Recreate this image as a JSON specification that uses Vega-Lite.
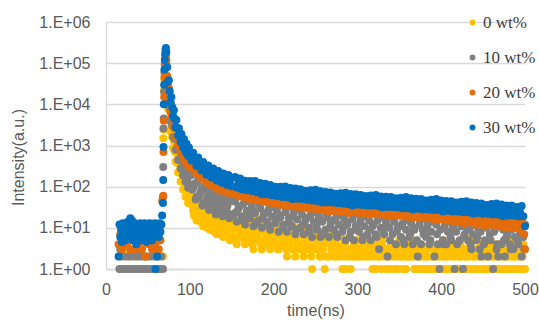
{
"$schema":"https://vega.github.io/schema/vega-lite/v6.json",
"width":419,"height":247,
"autosize":{"type":"none"},
"padding":{"left":106,"top":22,"right":14,"bottom":51},
"background":"white",
"config":{
"view":{"stroke":null},
"font":"Liberation Sans",
"axis":{"labelFont":"Liberation Sans","titleFont":"Liberation Sans","labelFontSize":16,"titleFontSize":16,"labelColor":"#595959","titleColor":"#595959","titleFontWeight":"normal","ticks":false,"labelFlush":false,"domainColor":"#d9d9d9","gridColor":"#d9d9d9","domainWidth":1.3,"gridWidth":1.3},
"legend":{"labelFont":"Liberation Serif","labelFontSize":17,"labelColor":"#404040","symbolType":"circle","symbolSize":34,"rowPadding":17,"labelOffset":2,"padding":0}
},
"datasets":{
"y0":[{"t":16,"v":2},{"t":20,"v":1},{"t":24,"v":3},{"t":28,"v":2},{"t":32,"v":1},{"t":36,"v":2},{"t":40,"v":3},{"t":44,"v":1},{"t":48,"v":2},{"t":52,"v":1},{"t":56,"v":3},{"t":60,"v":2},{"t":64,"v":1},{"t":68,"v":2},
{"t":68.5,"v":1500},{"t":68.8,"v":2400},{"t":69.2,"v":22000},{"t":69.6,"v":40000},{"t":70,"v":50000},{"t":70.5,"v":48000},{"t":71,"v":45000},
{"t":72,"v":51200},{"t":73,"v":19900},{"t":74,"v":7760},{"t":75,"v":9150},{"t":76,"v":4490},{"t":77,"v":2200},{"t":78,"v":3090},{"t":79,"v":1600},{"t":80,"v":870},{"t":81,"v":1300},{"t":82,"v":710},{"t":83,"v":410},{"t":84,"v":650},{"t":85,"v":375},{"t":86,"v":221},{"t":87,"v":358},{"t":88,"v":217},{"t":89,"v":133},{"t":90,"v":222},{"t":91,"v":135},{"t":92,"v":85},{"t":93,"v":146},{"t":94,"v":91},{"t":95,"v":57},{"t":96,"v":98},{"t":97,"v":62},{"t":98,"v":40},{"t":99,"v":68},{"t":100,"v":44},
{"t":102,"v":72},{"t":104,"v":26},{"t":106,"v":37},{"t":108,"v":15},{"t":110,"v":49},{"t":112,"v":18},{"t":114,"v":26},{"t":116,"v":11},{"t":118,"v":35},{"t":120,"v":13},{"t":122,"v":20},{"t":124,"v":9},{"t":126,"v":28},{"t":128,"v":11},{"t":130,"v":15},{"t":132,"v":7},{"t":134,"v":23},{"t":136,"v":9},{"t":138,"v":13},{"t":140,"v":6},{"t":142,"v":19},{"t":144,"v":8},{"t":146,"v":12},{"t":148,"v":5},
{"t":101,"v":61},{"t":103,"v":35},{"t":105,"v":20},{"t":107,"v":35},{"t":109,"v":40},{"t":111,"v":24},{"t":113,"v":14},{"t":115,"v":25},{"t":117,"v":29},{"t":119,"v":17},{"t":121,"v":10},{"t":123,"v":19},{"t":125,"v":23},{"t":127,"v":14},{"t":129,"v":8},{"t":131,"v":15},{"t":133,"v":18},{"t":135,"v":11},{"t":137,"v":7},{"t":139,"v":13},{"t":141,"v":16},{"t":143,"v":10},{"t":145,"v":6},{"t":147,"v":12},{"t":149,"v":14},
{"t":150,"v":21},{"t":152,"v":6},{"t":154,"v":14},{"t":156,"v":4},{"t":158,"v":10},{"t":160,"v":19},{"t":162,"v":6},{"t":164,"v":12},{"t":166,"v":4},{"t":168,"v":9},{"t":170,"v":17},{"t":172,"v":5},{"t":174,"v":11},{"t":176,"v":3},{"t":178,"v":8},{"t":180,"v":16},{"t":182,"v":5},{"t":184,"v":10},{"t":186,"v":3},{"t":188,"v":8},{"t":190,"v":14},{"t":192,"v":4},{"t":194,"v":9},{"t":196,"v":3},{"t":198,"v":7},{"t":200,"v":13},{"t":202,"v":4},{"t":204,"v":9},{"t":206,"v":3},{"t":208,"v":7},{"t":210,"v":12},{"t":212,"v":4},{"t":214,"v":8},{"t":216,"v":2},{"t":218,"v":6},{"t":220,"v":11},{"t":222,"v":3},{"t":224,"v":7},{"t":226,"v":2},{"t":228,"v":6},{"t":230,"v":10},{"t":232,"v":3},{"t":234,"v":7},{"t":236,"v":2},{"t":238,"v":5},{"t":240,"v":9},{"t":242,"v":3},{"t":244,"v":6},{"t":246,"v":1},{"t":248,"v":4},{"t":250,"v":8},{"t":252,"v":3},{"t":254,"v":5},{"t":256,"v":2},{"t":258,"v":4},{"t":260,"v":8},{"t":261,"v":1},{"t":262,"v":2},{"t":264,"v":5},{"t":266,"v":2},{"t":268,"v":4},{"t":270,"v":7},{"t":272,"v":2},{"t":274,"v":5},{"t":276,"v":2},{"t":278,"v":3},{"t":280,"v":6},{"t":282,"v":1},{"t":284,"v":4},{"t":286,"v":1},{"t":288,"v":3},{"t":290,"v":6},{"t":292,"v":1},{"t":294,"v":2},{"t":296,"v":4},{"t":298,"v":2},{"t":300,"v":5},{"t":302,"v":2},{"t":304,"v":3},{"t":306,"v":6},{"t":308,"v":2},{"t":310,"v":4},{"t":312,"v":2},{"t":314,"v":3},{"t":316,"v":5},{"t":318,"v":1},{"t":320,"v":3},{"t":322,"v":1},{"t":324,"v":4},{"t":326,"v":2},{"t":328,"v":1},{"t":330,"v":5},{"t":332,"v":3},{"t":334,"v":1},{"t":336,"v":2},{"t":338,"v":1},{"t":340,"v":4},{"t":342,"v":2},{"t":344,"v":1},{"t":346,"v":3},{"t":348,"v":1},{"t":350,"v":5},{"t":352,"v":2},{"t":354,"v":1},{"t":356,"v":3},{"t":358,"v":1},{"t":360,"v":2},{"t":362,"v":4},{"t":364,"v":2},{"t":366,"v":3},{"t":368,"v":1},{"t":370,"v":5},{"t":372,"v":1},{"t":374,"v":2},{"t":376,"v":1},{"t":378,"v":3},{"t":380,"v":1},{"t":382,"v":2},{"t":384,"v":1},{"t":386,"v":4},{"t":388,"v":1},{"t":390,"v":2},{"t":392,"v":1},{"t":394,"v":3},{"t":396,"v":1},{"t":398,"v":2},{"t":400,"v":1},{"t":402,"v":5},{"t":404,"v":1},{"t":406,"v":2},{"t":408,"v":1},{"t":410,"v":3},{"t":412,"v":1},{"t":414,"v":2},{"t":416,"v":1},{"t":418,"v":4},{"t":420,"v":1},{"t":422,"v":2},{"t":424,"v":1},{"t":426,"v":3},{"t":428,"v":1},{"t":430,"v":2},{"t":432,"v":1},{"t":434,"v":5},{"t":436,"v":1},{"t":438,"v":2},{"t":440,"v":1},{"t":442,"v":3},{"t":444,"v":1},{"t":446,"v":2},{"t":448,"v":1},{"t":450,"v":4},{"t":452,"v":1},{"t":454,"v":2},{"t":456,"v":1},{"t":458,"v":3},{"t":460,"v":1},{"t":462,"v":2},{"t":464,"v":1},{"t":466,"v":4},{"t":468,"v":1},{"t":470,"v":2},{"t":472,"v":1},{"t":474,"v":3},{"t":476,"v":1},{"t":478,"v":2},{"t":480,"v":1},{"t":482,"v":5},{"t":484,"v":1},{"t":486,"v":2},{"t":488,"v":1},{"t":490,"v":3},{"t":492,"v":1},{"t":494,"v":2},{"t":496,"v":1},{"t":498,"v":4},{"t":500,"v":1},
{"t":151,"v":9},{"t":153,"v":16},{"t":155,"v":5},{"t":157,"v":11},{"t":159,"v":7},{"t":161,"v":8},{"t":163,"v":15},{"t":165,"v":5},{"t":167,"v":10},{"t":169,"v":6},{"t":171,"v":7},{"t":173,"v":13},{"t":175,"v":4},{"t":177,"v":9},{"t":179,"v":6},{"t":181,"v":7},{"t":183,"v":12},{"t":185,"v":4},{"t":187,"v":8},{"t":189,"v":5},{"t":191,"v":6},{"t":193,"v":11},{"t":195,"v":4},{"t":197,"v":8},{"t":199,"v":5},{"t":201,"v":6},{"t":203,"v":10},{"t":205,"v":3},{"t":207,"v":7},{"t":209,"v":5},{"t":211,"v":5},{"t":213,"v":9},{"t":215,"v":3},{"t":217,"v":7},{"t":219,"v":4},{"t":221,"v":5},{"t":223,"v":9},{"t":225,"v":3},{"t":227,"v":6},{"t":229,"v":4},{"t":231,"v":4},{"t":233,"v":8},{"t":235,"v":3},{"t":237,"v":5},{"t":239,"v":3},{"t":241,"v":4},{"t":243,"v":7},{"t":245,"v":2},{"t":247,"v":5},{"t":249,"v":3},{"t":251,"v":3},{"t":253,"v":6},{"t":255,"v":2},{"t":257,"v":5},{"t":259,"v":3},{"t":263,"v":6},{"t":265,"v":2},{"t":267,"v":4},{"t":269,"v":3},
{"t":271,"v":3},{"t":273,"v":2},{"t":275,"v":4},{"t":277,"v":3},{"t":279,"v":2},{"t":281,"v":3},{"t":283,"v":2},{"t":285,"v":4},{"t":287,"v":2},{"t":289,"v":3},{"t":291,"v":2},{"t":293,"v":3},{"t":295,"v":2},{"t":297,"v":4},{"t":299,"v":3},{"t":301,"v":2},{"t":303,"v":3},{"t":305,"v":2},{"t":307,"v":4},{"t":309,"v":3},{"t":311,"v":2},{"t":313,"v":3},{"t":315,"v":2},{"t":317,"v":4},{"t":319,"v":2},{"t":321,"v":3},{"t":323,"v":2},{"t":325,"v":3},{"t":327,"v":2},{"t":329,"v":4},{"t":331,"v":2},{"t":333,"v":3},{"t":335,"v":2},{"t":337,"v":3},{"t":339,"v":2},{"t":341,"v":4},{"t":343,"v":3},{"t":345,"v":2},{"t":347,"v":3},{"t":349,"v":2},{"t":351,"v":4},{"t":353,"v":2},{"t":355,"v":3},{"t":357,"v":2},{"t":359,"v":3},{"t":361,"v":2},{"t":363,"v":4},{"t":365,"v":2},{"t":367,"v":3},{"t":369,"v":2},{"t":371,"v":3},{"t":373,"v":2},{"t":375,"v":4},{"t":377,"v":2},{"t":379,"v":3},{"t":381,"v":2},{"t":383,"v":3},{"t":385,"v":2},{"t":387,"v":4},{"t":389,"v":2},{"t":391,"v":3},{"t":393,"v":2},{"t":395,"v":3},{"t":397,"v":2},{"t":399,"v":4},{"t":401,"v":2},{"t":403,"v":3},{"t":405,"v":2},{"t":407,"v":3},{"t":409,"v":2},{"t":411,"v":4},{"t":413,"v":2},{"t":415,"v":3},{"t":417,"v":2},{"t":419,"v":3},{"t":421,"v":2},{"t":423,"v":4},{"t":425,"v":2},{"t":427,"v":3},{"t":429,"v":2},{"t":431,"v":3},{"t":433,"v":2},{"t":435,"v":4},{"t":437,"v":2},{"t":439,"v":3},{"t":441,"v":2},{"t":443,"v":3},{"t":445,"v":2},{"t":447,"v":4},{"t":449,"v":2},{"t":451,"v":3},{"t":453,"v":2},{"t":455,"v":3},{"t":457,"v":2},{"t":459,"v":4},{"t":461,"v":2},{"t":463,"v":3},{"t":465,"v":2},{"t":467,"v":3},{"t":469,"v":2},{"t":471,"v":4},{"t":473,"v":2},{"t":475,"v":3},{"t":477,"v":2},{"t":479,"v":3},{"t":481,"v":2},{"t":483,"v":4},{"t":485,"v":2},{"t":487,"v":3},{"t":489,"v":2},{"t":491,"v":3},{"t":493,"v":2},{"t":495,"v":4},{"t":497,"v":2},{"t":499,"v":3}],
"y1":[{"t":16,"v":1},{"t":17,"v":3},{"t":18,"v":2},{"t":20,"v":1},{"t":22,"v":2},{"t":24,"v":1},{"t":26,"v":2},{"t":28,"v":1},{"t":30,"v":2},{"t":32,"v":1},{"t":34,"v":2},{"t":36,"v":1},{"t":37,"v":3},{"t":38,"v":2},{"t":40,"v":1},{"t":42,"v":2},{"t":44,"v":1},{"t":46,"v":2},{"t":48,"v":1},{"t":50,"v":2},{"t":52,"v":1},{"t":54,"v":2},{"t":56,"v":1},{"t":57,"v":3},{"t":58,"v":2},{"t":60,"v":1},{"t":62,"v":2},{"t":64,"v":1},{"t":66,"v":2},{"t":68,"v":1},
{"t":68.3,"v":300},{"t":68.6,"v":2600},{"t":68.9,"v":4500},{"t":69.3,"v":20000},{"t":69.7,"v":60000},{"t":70.1,"v":95000},{"t":70.5,"v":110000},{"t":71,"v":95000},
{"t":72,"v":94600},{"t":73,"v":35000},{"t":74,"v":13100},{"t":75,"v":17800},{"t":76,"v":8300},{"t":77,"v":3910},{"t":78,"v":6200},{"t":79,"v":3070},{"t":80,"v":1620},{"t":81,"v":2700},{"t":82,"v":1430},{"t":83,"v":790},{"t":84,"v":1410},{"t":85,"v":785},{"t":86,"v":445},{"t":87,"v":818},{"t":88,"v":478},{"t":89,"v":278},{"t":90,"v":530},{"t":91,"v":310},{"t":92,"v":186},{"t":93,"v":362},{"t":94,"v":217},{"t":95,"v":131},{"t":96,"v":255},{"t":97,"v":153},{"t":98,"v":94},{"t":99,"v":184},{"t":100,"v":113},
{"t":102,"v":220},{"t":104,"v":95},{"t":106,"v":119},{"t":108,"v":56},{"t":110,"v":149},{"t":112,"v":66},{"t":114,"v":85},{"t":116,"v":40},{"t":118,"v":106},{"t":120,"v":49},{"t":122,"v":64},{"t":124,"v":31},{"t":126,"v":85},{"t":128,"v":39},{"t":130,"v":50},{"t":132,"v":25},{"t":134,"v":78},{"t":136,"v":34},{"t":138,"v":49},{"t":140,"v":24},{"t":142,"v":66},{"t":144,"v":29},{"t":146,"v":42},{"t":148,"v":21},
{"t":101,"v":186},{"t":103,"v":85},{"t":105,"v":106},{"t":107,"v":49},{"t":109,"v":124},{"t":111,"v":58},{"t":113,"v":75},{"t":115,"v":35},{"t":117,"v":88},{"t":119,"v":42},{"t":121,"v":56},{"t":123,"v":27},{"t":125,"v":70},{"t":127,"v":34},{"t":129,"v":44},{"t":131,"v":21},{"t":133,"v":63},{"t":135,"v":30},{"t":137,"v":40},{"t":139,"v":19},{"t":141,"v":53},{"t":143,"v":25},{"t":145,"v":35},{"t":147,"v":17},{"t":149,"v":49},
{"t":150,"v":66},{"t":152,"v":21},{"t":154,"v":43},{"t":156,"v":14},{"t":158,"v":29},{"t":160,"v":58},{"t":162,"v":19},{"t":164,"v":38},{"t":166,"v":12},{"t":168,"v":26},{"t":170,"v":52},{"t":172,"v":17},{"t":174,"v":34},{"t":176,"v":11},{"t":178,"v":23},{"t":180,"v":47},{"t":182,"v":15},{"t":184,"v":30},{"t":186,"v":10},{"t":188,"v":21},{"t":190,"v":43},{"t":192,"v":14},{"t":194,"v":28},{"t":196,"v":9},{"t":198,"v":19},{"t":200,"v":39},{"t":202,"v":13},{"t":204,"v":26},{"t":206,"v":8},{"t":208,"v":18},{"t":210,"v":36},{"t":212,"v":12},{"t":214,"v":24},{"t":216,"v":8},{"t":218,"v":17},{"t":220,"v":34},{"t":222,"v":11},{"t":224,"v":23},{"t":226,"v":7},{"t":228,"v":16},{"t":230,"v":32},{"t":232,"v":10},{"t":234,"v":21},{"t":236,"v":7},{"t":238,"v":15},{"t":240,"v":31},{"t":242,"v":10},{"t":244,"v":20},{"t":246,"v":6},{"t":248,"v":14},{"t":250,"v":29},{"t":252,"v":9},{"t":254,"v":19},{"t":256,"v":6},{"t":258,"v":14},{"t":260,"v":28},{"t":262,"v":9},{"t":264,"v":18},{"t":266,"v":6},{"t":268,"v":13},{"t":270,"v":26},{"t":272,"v":9},{"t":274,"v":17},{"t":276,"v":6},{"t":278,"v":12},{"t":280,"v":25},{"t":282,"v":8},{"t":284,"v":17},{"t":286,"v":5},{"t":288,"v":12},{"t":290,"v":24},{"t":292,"v":8},{"t":294,"v":16},{"t":296,"v":5},{"t":298,"v":11},{"t":300,"v":23},{"t":302,"v":8},{"t":304,"v":16},{"t":306,"v":5},{"t":308,"v":11},{"t":310,"v":23},{"t":312,"v":7},{"t":314,"v":15},{"t":316,"v":5},{"t":318,"v":11},{"t":320,"v":22},{"t":322,"v":7},{"t":324,"v":15},{"t":326,"v":3},{"t":328,"v":10},{"t":330,"v":21},{"t":332,"v":7},{"t":334,"v":14},{"t":336,"v":2},{"t":338,"v":10},{"t":340,"v":20},{"t":342,"v":7},{"t":344,"v":14},{"t":346,"v":4},{"t":348,"v":10},{"t":350,"v":20},{"t":352,"v":6},{"t":354,"v":13},{"t":356,"v":4},{"t":358,"v":9},{"t":360,"v":19},{"t":362,"v":6},{"t":364,"v":13},{"t":366,"v":4},{"t":368,"v":9},{"t":370,"v":18},{"t":372,"v":2},{"t":374,"v":12},{"t":376,"v":4},{"t":378,"v":9},{"t":380,"v":18},{"t":382,"v":6},{"t":384,"v":12},{"t":386,"v":4},{"t":388,"v":8},{"t":390,"v":17},{"t":392,"v":2},{"t":394,"v":12},{"t":396,"v":4},{"t":398,"v":1},{"t":400,"v":17},{"t":402,"v":5},{"t":404,"v":11},{"t":406,"v":4},{"t":408,"v":8},{"t":410,"v":16},{"t":412,"v":5},{"t":414,"v":11},{"t":416,"v":1},{"t":418,"v":8},{"t":420,"v":16},{"t":422,"v":5},{"t":424,"v":11},{"t":426,"v":1},{"t":428,"v":7},{"t":430,"v":15},{"t":432,"v":5},{"t":434,"v":10},{"t":436,"v":3},{"t":438,"v":7},{"t":440,"v":15},{"t":442,"v":5},{"t":444,"v":10},{"t":446,"v":3},{"t":448,"v":2},{"t":450,"v":14},{"t":452,"v":5},{"t":454,"v":10},{"t":456,"v":2},{"t":458,"v":7},{"t":460,"v":14},{"t":462,"v":1},{"t":464,"v":9},{"t":466,"v":3},{"t":468,"v":2},{"t":470,"v":13},{"t":472,"v":4},{"t":474,"v":9},{"t":476,"v":2},{"t":478,"v":6},{"t":480,"v":13},{"t":482,"v":4},{"t":484,"v":9},{"t":486,"v":3},{"t":488,"v":6},{"t":490,"v":13},{"t":492,"v":4},{"t":494,"v":8},{"t":496,"v":2},{"t":498,"v":6},{"t":500,"v":12},
{"t":151,"v":54},{"t":155,"v":24},{"t":159,"v":33},{"t":163,"v":15},{"t":167,"v":44},{"t":171,"v":20},{"t":175,"v":27},{"t":179,"v":13},{"t":183,"v":37},{"t":187,"v":17},{"t":191,"v":23},{"t":195,"v":11},{"t":199,"v":32},{"t":203,"v":15},{"t":207,"v":20},{"t":211,"v":10},{"t":215,"v":29},{"t":219,"v":13},{"t":223,"v":19},{"t":227,"v":9},{"t":231,"v":27},{"t":235,"v":12},{"t":239,"v":17},{"t":243,"v":8},{"t":247,"v":24},{"t":251,"v":11},{"t":255,"v":16},{"t":259,"v":7},{"t":263,"v":22},{"t":267,"v":10},{"t":271,"v":15},{"t":275,"v":7},{"t":279,"v":21},{"t":283,"v":10},{"t":287,"v":14},{"t":291,"v":6},{"t":295,"v":20},{"t":299,"v":9},{"t":303,"v":13},{"t":307,"v":6},{"t":311,"v":19},{"t":315,"v":9},{"t":319,"v":12},{"t":323,"v":6},{"t":327,"v":18},{"t":331,"v":8},{"t":335,"v":12},{"t":339,"v":5},{"t":343,"v":17},{"t":347,"v":8},{"t":351,"v":11},{"t":355,"v":5},{"t":359,"v":16},{"t":363,"v":7},{"t":367,"v":10},{"t":371,"v":5},{"t":375,"v":15},{"t":379,"v":7},{"t":383,"v":10},{"t":387,"v":5},{"t":391,"v":14},{"t":395,"v":7},{"t":399,"v":9},{"t":403,"v":4},{"t":407,"v":14},{"t":411,"v":6},{"t":415,"v":9},{"t":419,"v":4},{"t":423,"v":13},{"t":427,"v":6},{"t":431,"v":9},{"t":435,"v":4},{"t":439,"v":12},{"t":443,"v":6},{"t":447,"v":8},{"t":451,"v":4},{"t":455,"v":12},{"t":459,"v":5},{"t":463,"v":8},{"t":467,"v":4},{"t":471,"v":11},{"t":475,"v":5},{"t":479,"v":7},{"t":483,"v":3},{"t":487,"v":11},{"t":491,"v":5},{"t":495,"v":7},{"t":499,"v":3}],
"y2":[{"t":15,"v":4},{"t":17,"v":7},{"t":19,"v":3},{"t":21,"v":5},{"t":23,"v":9},{"t":25,"v":4},{"t":27,"v":6},{"t":29,"v":3},{"t":31,"v":8},{"t":33,"v":5},{"t":35,"v":3},{"t":37,"v":7},{"t":39,"v":4},{"t":41,"v":6},{"t":43,"v":3},{"t":45,"v":9},{"t":47,"v":2},{"t":49,"v":5},{"t":51,"v":4},{"t":53,"v":7},{"t":55,"v":3},{"t":57,"v":6},{"t":59,"v":4},{"t":61,"v":8},{"t":63,"v":3},{"t":65,"v":5},{"t":66,"v":12},{"t":67,"v":45},{"t":68,"v":55},
{"t":68.3,"v":60},{"t":68.6,"v":700},{"t":69,"v":4000},{"t":69.4,"v":15000},{"t":69.8,"v":45000},{"t":70.2,"v":90000},{"t":70.6,"v":130000},{"t":71,"v":150000},{"t":71.5,"v":140000},
{"t":72,"v":118000},{"t":73,"v":49000},{"t":74,"v":19800},{"t":75,"v":25000},{"t":76,"v":12600},{"t":77,"v":6470},{"t":78,"v":9570},{"t":79,"v":5170},{"t":80,"v":2960},{"t":81,"v":4620},{"t":82,"v":2640},{"t":83,"v":1600},{"t":84,"v":2640},{"t":85,"v":1600},{"t":86,"v":1000},{"t":87,"v":1690},{"t":88,"v":1080},{"t":89,"v":692},{"t":90,"v":1210},{"t":91,"v":773},{"t":92,"v":508},{"t":93,"v":915},{"t":94,"v":600},{"t":95,"v":395},{"t":96,"v":710},{"t":97,"v":468},{"t":98,"v":316},{"t":99,"v":565},{"t":100,"v":385},
{"t":102,"v":275},{"t":104,"v":344},{"t":106,"v":260},{"t":108,"v":202},{"t":110,"v":260},{"t":112,"v":202},{"t":114,"v":157},{"t":116,"v":202},{"t":118,"v":157},{"t":120,"v":125},{"t":122,"v":166},{"t":124,"v":133},{"t":126,"v":106},{"t":128,"v":141},{"t":130,"v":109},{"t":132,"v":89},{"t":134,"v":122},{"t":136,"v":99},{"t":138,"v":80},{"t":140,"v":106},{"t":142,"v":87},{"t":144,"v":72},{"t":146,"v":98},{"t":148,"v":80},{"t":150,"v":66},
{"t":154,"v":87},{"t":158,"v":59},{"t":162,"v":66},{"t":166,"v":75},{"t":170,"v":51},{"t":174,"v":58},{"t":178,"v":66},{"t":182,"v":46},{"t":186,"v":52},{"t":190,"v":59},{"t":194,"v":41},{"t":198,"v":47},{"t":202,"v":53},{"t":206,"v":37},{"t":210,"v":43},{"t":214,"v":49},{"t":218,"v":34},{"t":222,"v":40},{"t":226,"v":46},{"t":230,"v":32},{"t":234,"v":38},{"t":238,"v":43},{"t":242,"v":29},{"t":246,"v":35},{"t":250,"v":41},{"t":254,"v":28},{"t":258,"v":33},{"t":262,"v":38},{"t":266,"v":25},{"t":270,"v":31},{"t":274,"v":36},{"t":278,"v":25},{"t":282,"v":30},{"t":286,"v":35},{"t":290,"v":23},{"t":294,"v":28},{"t":298,"v":33},{"t":302,"v":23},{"t":306,"v":27},{"t":310,"v":32},{"t":314,"v":21},{"t":318,"v":26},{"t":322,"v":30},{"t":326,"v":21},{"t":330,"v":25},{"t":334,"v":29},{"t":338,"v":19},{"t":342,"v":24},{"t":346,"v":28},{"t":350,"v":20},{"t":354,"v":23},{"t":358,"v":27},{"t":362,"v":18},{"t":366,"v":22},{"t":370,"v":26},{"t":374,"v":18},{"t":378,"v":21},{"t":382,"v":25},{"t":386,"v":17},{"t":390,"v":21},{"t":394,"v":24},{"t":398,"v":16},{"t":402,"v":19},{"t":406,"v":23},{"t":410,"v":15},{"t":414,"v":18},{"t":418,"v":22},{"t":422,"v":14},{"t":426,"v":17},{"t":430,"v":20},{"t":434,"v":14},{"t":438,"v":17},{"t":442,"v":19},{"t":446,"v":12},{"t":450,"v":15},{"t":454,"v":19},{"t":458,"v":12},{"t":462,"v":14},{"t":466,"v":17},{"t":470,"v":11},{"t":474,"v":13},{"t":478,"v":16},{"t":482,"v":10},{"t":486,"v":13},{"t":490,"v":16},{"t":494,"v":9},{"t":498,"v":12},{"t":499,"v":7},{"t":500,"v":3},
{"t":156,"v":72},{"t":160,"v":80},{"t":164,"v":55},{"t":168,"v":62},{"t":172,"v":71},{"t":176,"v":48},{"t":180,"v":55},{"t":184,"v":63},{"t":188,"v":43},{"t":192,"v":49},{"t":196,"v":56},{"t":200,"v":39},{"t":204,"v":44},{"t":208,"v":51},{"t":212,"v":35},{"t":216,"v":41},{"t":220,"v":48},{"t":224,"v":33},{"t":228,"v":38},{"t":232,"v":45},{"t":236,"v":32},{"t":240,"v":36},{"t":244,"v":42},{"t":248,"v":29},{"t":252,"v":34},{"t":256,"v":39},{"t":260,"v":28},{"t":264,"v":32},{"t":268,"v":37},{"t":272,"v":26},{"t":276,"v":30},{"t":280,"v":36},{"t":284,"v":25},{"t":288,"v":29},{"t":292,"v":34},{"t":296,"v":24},{"t":300,"v":28},{"t":304,"v":32},{"t":308,"v":23},{"t":312,"v":27},{"t":316,"v":31},{"t":320,"v":22},{"t":324,"v":26},{"t":328,"v":30},{"t":332,"v":21},{"t":336,"v":24},{"t":340,"v":29},{"t":344,"v":20},{"t":348,"v":24},{"t":352,"v":28},{"t":356,"v":19},{"t":360,"v":23},{"t":364,"v":26},{"t":368,"v":18},{"t":372,"v":22},{"t":376,"v":26},{"t":380,"v":17},{"t":384,"v":21},{"t":388,"v":25},{"t":392,"v":16},{"t":396,"v":20},{"t":400,"v":24},{"t":404,"v":15},{"t":408,"v":18},{"t":412,"v":21},{"t":416,"v":14},{"t":420,"v":18},{"t":424,"v":21},{"t":428,"v":13},{"t":432,"v":16},{"t":436,"v":20},{"t":440,"v":12},{"t":444,"v":15},{"t":448,"v":18},{"t":452,"v":11},{"t":456,"v":14},{"t":460,"v":17},{"t":464,"v":11},{"t":468,"v":13},{"t":472,"v":16},{"t":476,"v":10},{"t":480,"v":13},{"t":484,"v":16},{"t":488,"v":10},{"t":492,"v":12},{"t":496,"v":15}],
"y3":[{"t":15,"v":2},{"t":16,"v":12},{"t":17,"v":6},{"t":18,"v":9},{"t":19,"v":4.5},{"t":20,"v":13},{"t":21,"v":7},{"t":22,"v":10},{"t":23,"v":5},{"t":24,"v":12},{"t":25,"v":8},{"t":26,"v":14},{"t":27,"v":6},{"t":28,"v":11},{"t":29,"v":17},{"t":30,"v":9},{"t":31,"v":15},{"t":32,"v":5},{"t":33,"v":12},{"t":34,"v":7},{"t":35,"v":13},{"t":36,"v":4},{"t":37,"v":10},{"t":38,"v":8},{"t":39,"v":12},{"t":40,"v":6},{"t":41,"v":13},{"t":42,"v":9},{"t":43,"v":5},{"t":44,"v":11},{"t":45,"v":7},{"t":46,"v":13},{"t":47,"v":8},{"t":48,"v":4.5},{"t":49,"v":12},{"t":50,"v":10},{"t":51,"v":6},{"t":52,"v":13},{"t":53,"v":8},{"t":54,"v":11},{"t":55,"v":5},{"t":56,"v":12},{"t":57,"v":7},{"t":58,"v":13},{"t":59,"v":1},{"t":60,"v":9},{"t":61,"v":2},{"t":62,"v":11},{"t":63,"v":6},{"t":64,"v":13},{"t":65,"v":8},{"t":66,"v":12},{"t":67,"v":20},
{"t":68,"v":40},{"t":68.3,"v":145},{"t":68.6,"v":915},{"t":69,"v":10000},{"t":69.4,"v":30000},{"t":69.8,"v":70000},{"t":70.2,"v":120000},{"t":70.6,"v":170000},{"t":71,"v":215000},{"t":71.5,"v":235000},
{"t":72,"v":185000},{"t":73,"v":80000},{"t":74,"v":34800},{"t":75,"v":38700},{"t":76,"v":21000},{"t":77,"v":11300},{"t":78,"v":15000},{"t":79,"v":8550},{"t":80,"v":5170},{"t":81,"v":7230},{"t":82,"v":4380},{"t":83,"v":2800},{"t":84,"v":4140},{"t":85,"v":2640},{"t":86,"v":1740},{"t":87,"v":2640},{"t":88,"v":1790},{"t":89,"v":1210},{"t":90,"v":1890},{"t":91,"v":1280},{"t":92,"v":890},{"t":93,"v":1430},{"t":94,"v":1000},{"t":95,"v":692},{"t":96,"v":1110},{"t":97,"v":773},{"t":98,"v":553},{"t":99,"v":890},{"t":100,"v":635},
{"t":102,"v":430},{"t":104,"v":670},{"t":106,"v":455},{"t":108,"v":316},{"t":110,"v":508},{"t":112,"v":354},{"t":114,"v":246},{"t":116,"v":395},{"t":118,"v":275},{"t":120,"v":196},{"t":122,"v":325},{"t":124,"v":232},{"t":126,"v":166},{"t":128,"v":275},{"t":130,"v":196},{"t":132,"v":141},{"t":134,"v":239},{"t":136,"v":173},{"t":138,"v":125},{"t":140,"v":208},{"t":142,"v":153},{"t":144,"v":112},{"t":146,"v":191},{"t":148,"v":141},{"t":150,"v":103},
{"t":154,"v":171},{"t":158,"v":122},{"t":162,"v":87},{"t":166,"v":139},{"t":170,"v":100},{"t":174,"v":78},{"t":178,"v":137},{"t":182,"v":94},{"t":186,"v":65},{"t":190,"v":117},{"t":194,"v":85},{"t":198,"v":62},{"t":202,"v":99},{"t":206,"v":72},{"t":210,"v":56},{"t":214,"v":101},{"t":218,"v":71},{"t":222,"v":50},{"t":226,"v":90},{"t":230,"v":67},{"t":234,"v":50},{"t":238,"v":80},{"t":242,"v":59},{"t":246,"v":46},{"t":250,"v":84},{"t":254,"v":59},{"t":258,"v":41},{"t":262,"v":74},{"t":266,"v":56},{"t":270,"v":41},{"t":274,"v":67},{"t":278,"v":50},{"t":282,"v":39},{"t":286,"v":71},{"t":290,"v":50},{"t":294,"v":35},{"t":298,"v":65},{"t":302,"v":48},{"t":306,"v":36},{"t":310,"v":59},{"t":314,"v":43},{"t":318,"v":35},{"t":322,"v":63},{"t":326,"v":44},{"t":330,"v":31},{"t":334,"v":57},{"t":338,"v":43},{"t":342,"v":32},{"t":346,"v":52},{"t":350,"v":38},{"t":354,"v":30},{"t":358,"v":56},{"t":362,"v":39},{"t":366,"v":28},{"t":370,"v":51},{"t":374,"v":38},{"t":378,"v":28},{"t":382,"v":46},{"t":386,"v":35},{"t":390,"v":27},{"t":394,"v":50},{"t":398,"v":35},{"t":402,"v":25},{"t":406,"v":45},{"t":410,"v":34},{"t":414,"v":25},{"t":418,"v":41},{"t":422,"v":31},{"t":426,"v":24},{"t":430,"v":44},{"t":434,"v":31},{"t":438,"v":22},{"t":442,"v":40},{"t":446,"v":30},{"t":450,"v":22},{"t":454,"v":36},{"t":458,"v":28},{"t":462,"v":21},{"t":466,"v":39},{"t":470,"v":28},{"t":474,"v":19},{"t":478,"v":35},{"t":482,"v":26},{"t":486,"v":20},{"t":490,"v":32},{"t":494,"v":24},{"t":498,"v":19},{"t":500,"v":11},
{"t":156,"v":95},{"t":160,"v":157},{"t":164,"v":114},{"t":168,"v":82},{"t":172,"v":137},{"t":176,"v":100},{"t":180,"v":73},{"t":184,"v":122},{"t":188,"v":89},{"t":192,"v":65},{"t":196,"v":110},{"t":200,"v":80},{"t":204,"v":59},{"t":208,"v":100},{"t":212,"v":74},{"t":216,"v":55},{"t":220,"v":93},{"t":224,"v":69},{"t":228,"v":51},{"t":232,"v":87},{"t":236,"v":65},{"t":240,"v":48},{"t":244,"v":82},{"t":248,"v":61},{"t":252,"v":45},{"t":256,"v":77},{"t":260,"v":57},{"t":264,"v":42},{"t":268,"v":72},{"t":272,"v":54},{"t":276,"v":40},{"t":280,"v":69},{"t":284,"v":51},{"t":288,"v":38},{"t":292,"v":66},{"t":296,"v":49},{"t":300,"v":37},{"t":304,"v":63},{"t":308,"v":47},{"t":312,"v":35},{"t":316,"v":61},{"t":320,"v":45},{"t":324,"v":34},{"t":328,"v":58},{"t":332,"v":43},{"t":336,"v":32},{"t":340,"v":56},{"t":344,"v":42},{"t":348,"v":31},{"t":352,"v":54},{"t":356,"v":40},{"t":360,"v":30},{"t":364,"v":52},{"t":368,"v":38},{"t":372,"v":29},{"t":376,"v":50},{"t":380,"v":37},{"t":384,"v":28},{"t":388,"v":48},{"t":392,"v":36},{"t":396,"v":27},{"t":400,"v":46},{"t":404,"v":34},{"t":408,"v":26},{"t":412,"v":44},{"t":416,"v":33},{"t":420,"v":25},{"t":424,"v":43},{"t":428,"v":32},{"t":432,"v":24},{"t":436,"v":41},{"t":440,"v":31},{"t":444,"v":23},{"t":448,"v":39},{"t":452,"v":29},{"t":456,"v":22},{"t":460,"v":38},{"t":464,"v":28},{"t":468,"v":21},{"t":472,"v":37},{"t":476,"v":27},{"t":480,"v":20},{"t":484,"v":35},{"t":488,"v":26},{"t":492,"v":19},{"t":496,"v":34}]
},
"encoding":{
"x":{"field":"t","type":"quantitative","scale":{"domain":[0,500],"nice":false},"axis":{"values":[0,100,200,300,400,500],"grid":false,"title":"time(ns)","labelPadding":12,"titlePadding":5}},
"y":{"field":"v","type":"quantitative","scale":{"type":"log","domain":[1,1000000]},"axis":{"values":[1,10,100,1000,10000,100000,1000000],"labelExpr":"'1.E+0' + round(log(datum.value)/LN10)","grid":true,"title":"Intensity(a.u.)","labelPadding":16,"titlePadding":12,"titleY":135}}
},
"layer":[
{"data":{"name":"y0"},"mark":{"type":"circle","size":64,"opacity":1},"encoding":{"color":{"datum":"0 wt%","scale":{"domain":["0 wt%","10 wt%","20 wt%","30 wt%"],"range":["#FFC000","#808080","#E46C0A","#0070C0"]},"legend":{"title":null,"orient":"none","legendX":358,"legendY":-8}}}},
{"data":{"name":"y1"},"mark":{"type":"circle","size":64,"opacity":1},"encoding":{"color":{"datum":"10 wt%"}}},
{"data":{"name":"y2"},"mark":{"type":"circle","size":64,"opacity":1},"encoding":{"color":{"datum":"20 wt%"}}},
{"data":{"name":"y3"},"mark":{"type":"circle","size":64,"opacity":1},"encoding":{"color":{"datum":"30 wt%"}}}
]
}
